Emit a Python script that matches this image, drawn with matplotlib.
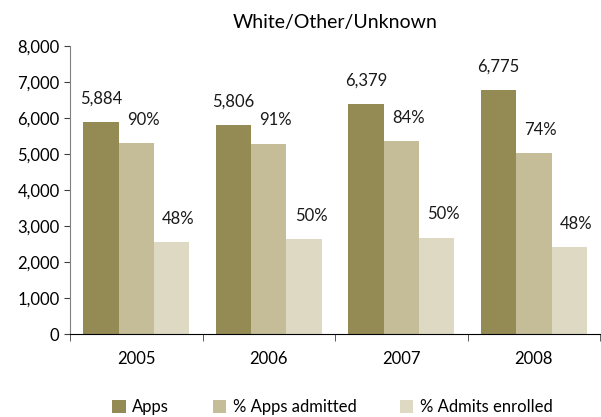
import numpy as np
import matplotlib
matplotlib.use("Agg")
import matplotlib.pyplot as plt
from matplotlib.ticker import FuncFormatter

# data
years = ["2005", "2006", "2007", "2008"]
apps = [5884, 5806, 6379, 6775]
admitted = [5296, 5283, 5358, 5014]
enrolled = [2542, 2642, 2679, 2407]
pct_admitted = ["90%", "91%", "84%", "74%"]
pct_enrolled = ["48%", "50%", "50%", "48%"]

plt.rcParams['font.family'] = ['Lato', 'DejaVu Sans']

fig = plt.figure(figsize=(6.01, 4.17), dpi=100)
ax = fig.add_axes([0.1165, 0.199, 0.882, 0.691])

x = np.arange(len(years))
w = 0.8 / 3
colors = ["#948A54", "#C4BD97", "#DDD9C3"]
names = ["Apps", "% Apps admitted", "% Admits enrolled"]

b1 = ax.bar(x - w, apps, w, color=colors[0], label=names[0])
b2 = ax.bar(x, admitted, w, color=colors[1], label=names[1])
b3 = ax.bar(x + w, enrolled, w, color=colors[2], label=names[2])

# value labels, percent ones sit a little to the right like in Excel
ax.bar_label(b1, labels=[f"{v:,}" for v in apps], padding=11, fontsize=12, color="#1a1a1a")
for bars, labs in [(b2, pct_admitted), (b3, pct_enrolled)]:
    for r, t in zip(bars, labs):
        ax.annotate(t, (r.get_x() + r.get_width() / 2, r.get_height()),
                    xytext=(5, 11), textcoords="offset points",
                    ha="center", va="bottom", fontsize=12, color="#1a1a1a")

ax.set_xlim(-0.5, len(years) - 0.5)
ax.set_ylim(0, 8000)
ax.set_yticks(range(0, 8001, 1000))
ax.yaxis.set_major_formatter(FuncFormatter(lambda v, p: f"{int(v):,}"))

ax.set_xticks(x)
ax.set_xticklabels(years)
ax.set_xticks(np.arange(-0.5, len(years)), minor=True)
ax.tick_params(axis="x", which="major", length=0, pad=12, labelsize=12)
ax.tick_params(axis="x", which="minor", length=5, color="#404040")
ax.tick_params(axis="y", length=4, labelsize=12, color="#404040")

for s in ["top", "right"]:
    ax.spines[s].set_visible(False)
ax.spines["left"].set_color("#808080")
ax.spines["bottom"].set_color("#000000")

ax.set_title("White/Other/Unknown", fontsize=14, pad=13)

fig.legend(loc="center", bbox_to_anchor=(0.553, 0.024), ncol=3, frameon=False,
           fontsize=12, handlelength=0.8, handleheight=0.8, columnspacing=2.6,
           handletextpad=0.4, borderpad=0.1)

fig.savefig("out.png", dpi=100)
